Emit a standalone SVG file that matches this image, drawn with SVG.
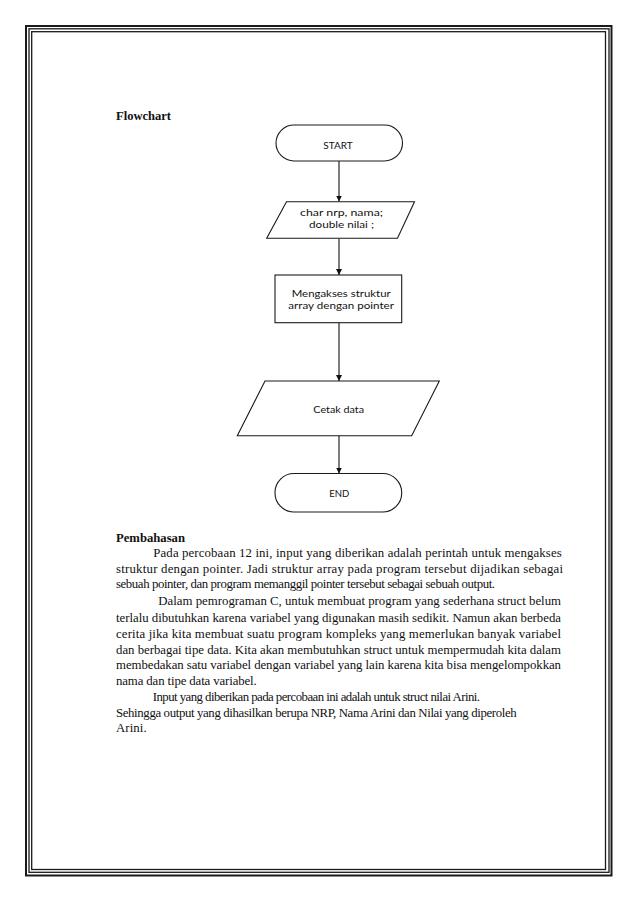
<svg xmlns="http://www.w3.org/2000/svg" width="638" height="903" viewBox="0 0 638 903">
<style>
.frame{fill:none;stroke:#1a1a1a}
.shape{fill:#fff;stroke:#1a1a1a;stroke-width:1.1}
.conn{fill:none;stroke:#111;stroke-width:1.1}
.fc{font-family:Lato,"Open Sans",sans-serif;font-size:10px;fill:#111}
.body{font-family:"Liberation Serif","Times New Roman",serif;font-size:12.8px;fill:#111}
.head{font-family:"Liberation Serif","Times New Roman",serif;font-size:12.8px;font-weight:bold;fill:#111}
</style>
<defs>
<marker id="arrow" markerUnits="userSpaceOnUse" markerWidth="7" markerHeight="7" refX="6" refY="3" orient="auto">
<path d="M0,0 L6,3 L0,6 z" fill="#111"/>
</marker>
</defs>
<rect width="638" height="903" fill="#fff"/>
<g id="page-border">
<rect class="frame" x="26" y="26" width="585.5" height="849.5" stroke-width="2"/>
<rect class="frame" x="29" y="28.8" width="580" height="843.5" stroke-width="1.3"/>
<rect class="frame" x="31.7" y="31.7" width="573.8" height="837.8" stroke-width="1.3"/>
</g>
<text class="head" x="116" y="120" textLength="55" lengthAdjust="spacingAndGlyphs">Flowchart</text>
<g id="connectors">
<line class="conn" x1="339" y1="161" x2="339" y2="201.5" marker-end="url(#arrow)"/>
<line class="conn" x1="339" y1="238.5" x2="339" y2="275" marker-end="url(#arrow)"/>
<line class="conn" x1="339" y1="323" x2="339" y2="381" marker-end="url(#arrow)"/>
<line class="conn" x1="339" y1="436" x2="339" y2="473.5" marker-end="url(#arrow)"/>
</g>
<g id="start">
<rect class="shape" x="276" y="125" width="126.5" height="36" rx="18" ry="18"/>
<text class="fc" x="323.3" y="149" textLength="29.4" lengthAdjust="spacingAndGlyphs">START</text>
</g>
<g id="declare">
<polygon class="shape" points="286.5,201.7 414.5,201.7 397.5,238.3 266.7,238.3"/>
<text class="fc" x="300" y="216" textLength="83" lengthAdjust="spacingAndGlyphs">char nrp, nama;</text>
<text class="fc" x="309" y="227.5" textLength="65" lengthAdjust="spacingAndGlyphs">double nilai ;</text>
</g>
<g id="process">
<rect class="shape" x="275" y="275" width="126.7" height="47.7"/>
<text class="fc" x="291.7" y="297.3" textLength="99" lengthAdjust="spacingAndGlyphs">Mengakses struktur</text>
<text class="fc" x="288.3" y="309.3" textLength="105.7" lengthAdjust="spacingAndGlyphs">array dengan pointer</text>
</g>
<g id="output">
<polygon class="shape" points="265,381 439.3,381 411.7,435.7 237.3,435.7"/>
<text class="fc" x="313.3" y="413.3" textLength="50.7" lengthAdjust="spacingAndGlyphs">Cetak data</text>
</g>
<g id="end">
<rect class="shape" x="275" y="473.5" width="126.7" height="38.5" rx="19" ry="19"/>
<text class="fc" x="329.3" y="497.3" textLength="20" lengthAdjust="spacingAndGlyphs">END</text>
</g>
<g id="pembahasan">
<text class="head" x="116" y="542" textLength="69" lengthAdjust="spacingAndGlyphs">Pembahasan</text>
<text class="body" x="153.3" y="557" textLength="408.4" lengthAdjust="spacing">Pada percobaan 12 ini, input yang diberikan adalah perintah untuk mengakses</text>
<text class="body" x="116" y="572.5" textLength="447" lengthAdjust="spacing">struktur dengan pointer. Jadi struktur array pada program tersebut dijadikan sebagai</text>
<text class="body" x="116" y="588" textLength="379" lengthAdjust="spacing">sebuah pointer, dan program memanggil pointer tersebut sebagai sebuah output.</text>
<text class="body" x="158.3" y="605" textLength="402.7" lengthAdjust="spacing">Dalam pemrograman C, untuk membuat program yang sederhana struct belum</text>
<text class="body" x="116" y="621.5" textLength="445" lengthAdjust="spacing">terlalu dibutuhkan karena variabel yang digunakan masih sedikit. Namun akan berbeda</text>
<text class="body" x="116" y="637.5" textLength="445" lengthAdjust="spacing">cerita jika kita membuat suatu program kompleks yang memerlukan banyak variabel</text>
<text class="body" x="116" y="653.5" textLength="445" lengthAdjust="spacing">dan berbagai tipe data. Kita akan membutuhkan struct untuk mempermudah kita dalam</text>
<text class="body" x="116" y="669" textLength="445" lengthAdjust="spacing">membedakan satu variabel dengan variabel yang lain karena kita bisa mengelompokkan</text>
<text class="body" x="116" y="685" textLength="140.7" lengthAdjust="spacing">nama dan tipe data variabel.</text>
<text class="body" x="152.7" y="701" textLength="327.3" lengthAdjust="spacing">Input yang diberikan pada percobaan ini adalah untuk struct nilai Arini.</text>
<text class="body" x="116" y="716.8" textLength="400.7" lengthAdjust="spacing">Sehingga output yang dihasilkan berupa NRP, Nama Arini dan Nilai yang diperoleh</text>
<text class="body" x="116" y="732" textLength="30.7" lengthAdjust="spacing">Arini.</text>
</g>
</svg>
